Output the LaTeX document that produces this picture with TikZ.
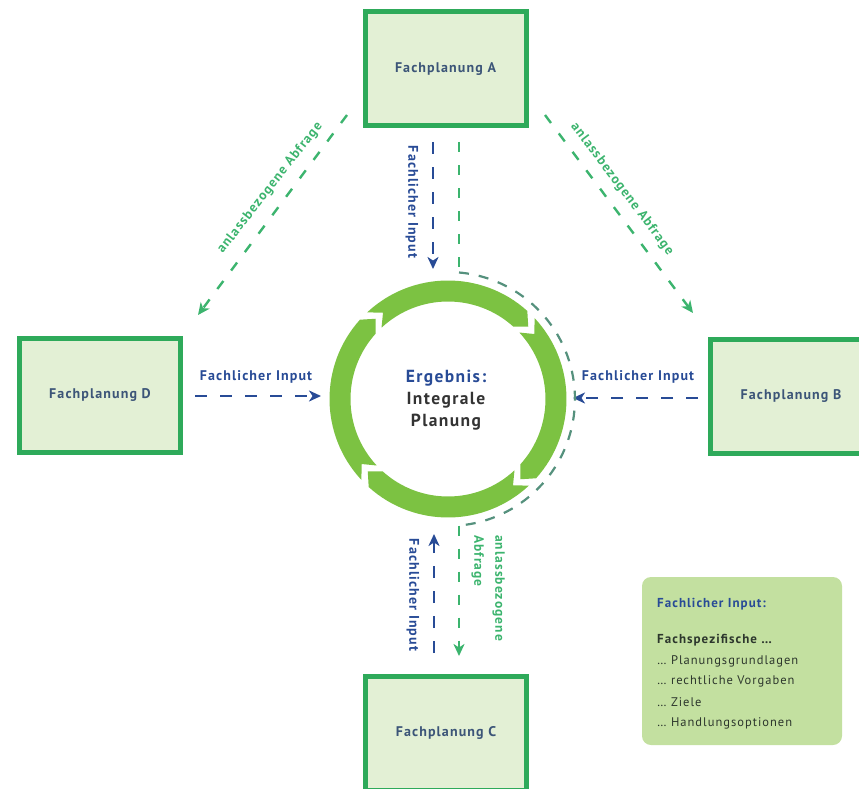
\documentclass[tikz,border=0pt]{standalone}
\usepackage{fontspec}
\setmainfont{PT Sans}
\newfontfamily\spaced[LetterSpace=8]{PT Sans}
\usetikzlibrary{arrows.meta,calc}
\definecolor{boxgreen}{RGB}{46,170,90}
\definecolor{boxfill}{RGB}{227,240,213}
\definecolor{ringgreen}{RGB}{124,194,66}
\definecolor{inblue}{RGB}{40,75,150}
\definecolor{abgreen}{RGB}{60,180,110}
\definecolor{arcgray}{RGB}{85,145,125}
\definecolor{legfill}{RGB}{195,224,160}
\definecolor{boxtext}{RGB}{60,85,120}
\definecolor{legtext}{RGB}{45,55,45}
\tikzset{
  fpbox/.style={draw=boxgreen, line width=5pt, fill=boxfill, minimum width=161pt, minimum height=114pt,
    text=boxtext, font=\spaced\fontsize{14}{15}\selectfont\bfseries},
  bluearrow/.style={draw=inblue, line width=2.6pt, dash pattern=on 12pt off 13pt,
    -{Stealth[length=12pt,width=11pt,inset=3.5pt]}},
  greenarrow/.style={draw=abgreen, line width=2.4pt, dash pattern=on 10pt off 13pt,
    -{Stealth[length=12pt,width=11pt,inset=3.5pt]}},
  greenline/.style={draw=abgreen, line width=2.4pt, dash pattern=on 10pt off 13pt},
  grayarc/.style={draw=arcgray, line width=2.2pt, dash pattern=on 10pt off 10pt},
  inlabel/.style={text=inblue, font=\spaced\fontsize{14}{15}\selectfont\bfseries, inner sep=0pt},
  ablabel/.style={text=abgreen, font=\spaced\fontsize{13.5}{15}\selectfont\bfseries, inner sep=0pt},
  legline/.style={anchor=west, inner sep=0pt, text=legtext, font=\spaced\fontsize{12.5}{13}\selectfont},
}
\begin{document}
\begin{tikzpicture}[x=1pt,y=-1pt]
\useasboundingbox (0,0) rectangle (859,789);
% boxes
\node[fpbox] (A) at (445.5,69) {Fachplanung A};
\node[fpbox] (D) at (100,395) {Fachplanung D};
\node[fpbox] (B) at (791,396) {Fachplanung B};
\node[fpbox] (C) at (446,733) {Fachplanung C};
% ring
\begin{scope}[shift={(448,399)}, yscale=-1]
  \foreach \t/\h in {133/48, 43/-42, -47/-132, -137/-222}{
    \fill[ringgreen] (\t:118.5) arc[start angle=\t, end angle=\h, radius=118.5]
      -- ({\h-6}:108) -- (\h:97.5) arc[start angle=\h, end angle=\t, radius=97.5]
      -- ({\t-6}:108) -- cycle;
  }
\end{scope}
\node (E) at (446,400) [align=center, font=\spaced\fontsize{17.5}{22}\selectfont\bfseries, inner sep=0pt]
  {\textcolor{inblue}{Ergebnis:}\\\textcolor{black!80}{Integrale}\\\textcolor{black!80}{Planung}};
% named coordinates
\coordinate (aIn0) at (433,142);
\coordinate (aIn1) at (433,269);
\coordinate (dIn0) at (195,396);
\coordinate (dIn1) at (321,396);
\coordinate (bIn0) at (698,398);
\coordinate (bIn1) at (573,398);
\coordinate (cIn0) at (434,653);
\coordinate (cIn1) at (434,534);
\coordinate (g0) at (459,142);
\coordinate (g1) at (459,272.5);
\coordinate (g2) at (459,525.5);
\coordinate (g3) at (459,656);
\coordinate (l0) at (347,115);
\coordinate (l1) at (198,315);
\coordinate (r0) at (545,115);
\coordinate (r1) at (693,313);
% blue arrows
\draw[bluearrow] (aIn0) -- (aIn1);
\draw[bluearrow] (dIn0) -- (dIn1);
\draw[bluearrow] (bIn0) -- (bIn1);
\draw[bluearrow] (cIn0) -- (cIn1);
% labels
\node[inlabel, rotate=-90] (la) at (412,202) {Fachlicher Input};
\node[inlabel] (ld) at (256,377) {Fachlicher Input};
\node[inlabel] (lb) at (638,377) {Fachlicher Input};
\node[inlabel, rotate=-90] (lc) at (413,595) {Fachlicher Input};
% green route
\draw[greenline] (g0) -- (g1);
\draw[grayarc] (g1) arc[start angle=-85, end angle=85, radius=127];
\draw[greenarrow] (g2) -- (g3);
\draw[greenarrow] (l0) -- (l1);
\draw[greenarrow] (r0) -- (r1);
\node[ablabel, rotate=52] (al) at (270,188) {anlassbezogene Abfrage};
\node[ablabel, rotate=-53] (ar) at (622,189) {anlassbezogene Abfrage};
\node[ablabel, rotate=-90, align=left, anchor=north west, font=\spaced\fontsize{13.5}{21}\selectfont\bfseries] (ac) at (505,535) {anlassbezogene\\Abfrage};
% legend
\node[fill=legfill, rounded corners=9pt, minimum width=200pt, minimum height=168pt, inner sep=0pt] (L) at (742,661) {};
\node[legline, text=inblue, font=\spaced\fontsize{13}{14}\selectfont\bfseries] (L0) at (657,604) {Fachlicher Input:};
\node[legline, font=\spaced\fontsize{13}{14}\selectfont\bfseries] (L1) at (657,640) {Fachspezifische …};
\node[legline] (L2) at (657,661) {… Planungsgrundlagen};
\node[legline] (L3) at (657,681) {… rechtliche Vorgaben};
\node[legline] (L4) at (657,702) {… Ziele};
\node[legline] (L5) at (657,723) {… Handlungsoptionen};
\end{tikzpicture}
\end{document}
